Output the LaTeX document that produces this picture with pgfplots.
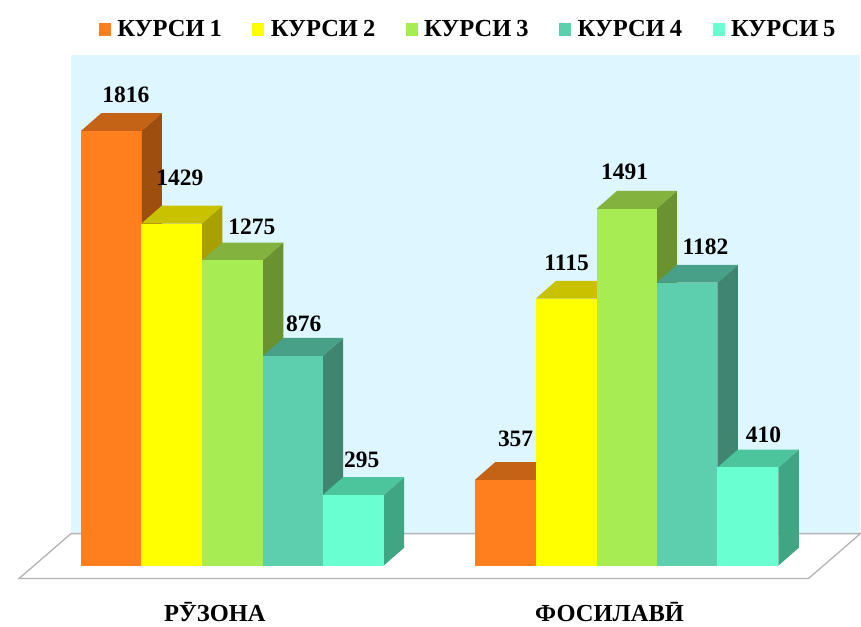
\documentclass[border=0pt]{standalone}
\usepackage{fontspec}
\setmainfont{Liberation Serif}
\usepackage{pgfplots}
\pgfplotsset{compat=1.18}

\definecolor{c1}{HTML}{FF7F1E}\definecolor{c1t}{HTML}{C46216}\definecolor{c1s}{HTML}{9E4F10}
\definecolor{c2}{HTML}{FFFF00}\definecolor{c2t}{HTML}{C8C200}\definecolor{c2s}{HTML}{A8A000}
\definecolor{c3}{HTML}{A6EC52}\definecolor{c3t}{HTML}{84B23F}\definecolor{c3s}{HTML}{6B9230}
\definecolor{c4}{HTML}{5ECFAE}\definecolor{c4t}{HTML}{48A088}\definecolor{c4s}{HTML}{3F8570}
\definecolor{c5}{HTML}{6AFFD0}\definecolor{c5t}{HTML}{4CC49C}\definecolor{c5s}{HTML}{3FA583}
\definecolor{wall}{HTML}{DDF6FF}

% [front opts]{x0}{x1}{back x1}{back x0}{value}{value+depth}{colour}
\newcommand{\cube}[8][forget plot]{%
  \addplot[fill=#8s,draw=none,forget plot] coordinates {(#3,0) (#4,75) (#4,#7) (#3,#6)} -- cycle;
  \addplot[fill=#8t,draw=none,forget plot] coordinates {(#2,#6) (#3,#6) (#4,#7) (#5,#7)} -- cycle;
  \addplot[fill=#8,draw=none,#1] coordinates {(#2,0) (#3,0) (#3,#6) (#2,#6)} -- cycle;
}

\begin{document}
\begin{tikzpicture}
\begin{axis}[
    scale only axis, width=861pt, height=627pt,
    xmin=0, xmax=861, ymin=-254.6, ymax=2363.3,
    hide axis, clip=false,
    legend columns=5,
    legend style={at={(axis cs:99,2241)}, anchor=west, draw=none, fill=none,
        inner sep=0pt, outer sep=0pt,
        nodes={inner sep=0pt, font=\fontsize{24.5}{26}\selectfont\bfseries},
        /tikz/every odd column/.style={column sep=6.5pt},
        /tikz/every even column/.style={column sep=30.5pt}},
    legend cell align=left,
    legend image code/.code={\fill[#1] (0pt,-6.5pt) rectangle (12pt,6.5pt);},
]
% frame, wall, floor
\addplot[fill=white,draw=none,forget plot] coordinates {(0,-254.6) (861,-254.6) (861,2363.3) (0,2363.3)} -- cycle;
\addplot[fill=wall,draw=none,forget plot] coordinates {(71,133.6) (861,133.6) (861,2133.6) (71,2133.6)} -- cycle;
\addplot[fill=white,draw={rgb,255:red,180;green,180;blue,180},line width=1.3pt,forget plot]
    coordinates {(19,-54.3) (71,133.6) (861,133.6) (809,-54.3)} -- cycle;

% РӮЗОНА
\cube[]{81}{141.5}{162}{101.5}{1816}{1891}{c1}
\cube[]{141.5}{202}{222.5}{162}{1429}{1504}{c2}
\cube[]{202}{263}{283.5}{222.5}{1275}{1350}{c3}
\cube[]{263}{323}{343.5}{283.5}{876}{951}{c4}
\cube[]{323}{384}{404.5}{343.5}{295}{370}{c5}
% ФОСИЛАВӢ
\cube{475}{536}{556.5}{495.5}{357}{432}{c1}
\cube{536}{597}{617.5}{556.5}{1115}{1190}{c2}
\cube{597}{657}{677.5}{617.5}{1491}{1566}{c3}
\cube{657}{718}{738.5}{677.5}{1182}{1257}{c4}
\cube{718}{779}{799.5}{738.5}{410}{485}{c5}

\legend{КУРСИ\hspace{5pt}1,КУРСИ\hspace{5pt}2,КУРСИ\hspace{5pt}3,КУРСИ\hspace{5pt}4,КУРСИ\hspace{5pt}5}

\begin{scope}[every node/.style={font=\fontsize{23.5}{25}\selectfont\bfseries, inner sep=0pt}]
\node at (axis cs:126,1967) {1816};
\node at (axis cs:180,1620) {1429};
\node at (axis cs:252,1415) {1275};
\node at (axis cs:304,1010) {876};
\node at (axis cs:362,443) {295};
\node at (axis cs:516,530) {357};
\node at (axis cs:567,1265) {1115};
\node at (axis cs:625,1645) {1491};
\node at (axis cs:706,1332) {1182};
\node at (axis cs:764,547) {410};
\node[font=\fontsize{24.5}{26}\selectfont\bfseries] at (axis cs:215,-196) {РӮЗОНА};
\node[font=\fontsize{24.5}{26}\selectfont\bfseries] at (axis cs:610,-192) {ФОСИЛАВӢ};
\end{scope}
\end{axis}
\end{tikzpicture}
\end{document}
